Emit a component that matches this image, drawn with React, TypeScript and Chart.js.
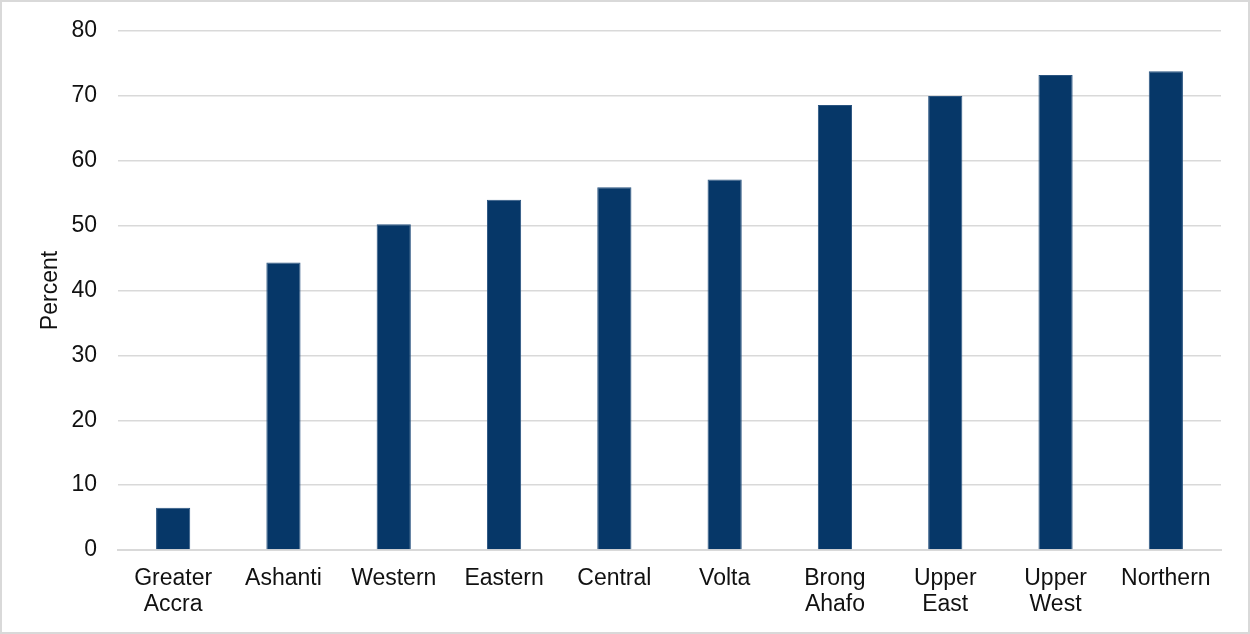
import React, { useEffect, useRef } from "react";
import { Chart, registerables } from "chart.js";

Chart.register(...registerables);

const categories: (string | string[])[] = [
  ["Greater", "Accra"],
  "Ashanti",
  "Western",
  "Eastern",
  "Central",
  "Volta",
  ["Brong", "Ahafo"],
  ["Upper", "East"],
  ["Upper", "West"],
  "Northern",
];
const percentValues: number[] = [6.5, 44.3, 50.2, 54.0, 55.9, 57.1, 68.6, 70.0, 73.2, 73.8];
const yTitle = "Percent";

export default function App() {
  const ref = useRef<HTMLCanvasElement | null>(null);
  useEffect(() => {
    if (!ref.current) return;
    const font = { family: "'Liberation Sans', Arial, sans-serif", size: 23, lineHeight: 1.13 };
    const chart = new Chart(ref.current, {
      type: "bar",
      data: {
        labels: categories,
        datasets: [
          {
            data: percentValues,
            backgroundColor: "#063768",
            borderColor: "#2a5480",
            borderWidth: 1,
            categoryPercentage: 1,
            barPercentage: 0.31,
          },
        ],
      },
      options: {
        responsive: false,
        animation: false,
        maintainAspectRatio: false,
        layout: { padding: { top: 29, right: 27, bottom: 6, left: 36 } },
        plugins: { legend: { display: false }, tooltip: { enabled: false } },
        scales: {
          x: {
            grid: { display: false },
            border: { display: true, color: "#d9d9d9", width: 2 },
            ticks: { color: "#111", font, padding: 8, maxRotation: 0, autoSkip: false },
          },
          y: {
            min: 0,
            max: 80,
            afterFit: (s: any) => {
              s.width = 80;
              s.paddingTop = 0;
            },
            ticks: { stepSize: 10, color: "#111", font, padding: 21 },
            grid: { color: "#d9d9d9", lineWidth: 1.5, drawTicks: false },
            border: { display: false },
            title: {
              display: true,
              text: yTitle,
              color: "#111",
              font,
              padding: { top: 0, bottom: 10 },
            },
          },
        },
      },
    });
    return () => chart.destroy();
  }, []);
  return (
    <div
      style={{
        position: "fixed",
        left: 0,
        top: 0,
        width: 1250,
        height: 634,
        boxSizing: "border-box",
        border: "2px solid #d9d9d9",
        background: "#fff",
      }}
    >
      <canvas ref={ref} width={1246} height={630} style={{ display: "block" }} />
    </div>
  );
}
